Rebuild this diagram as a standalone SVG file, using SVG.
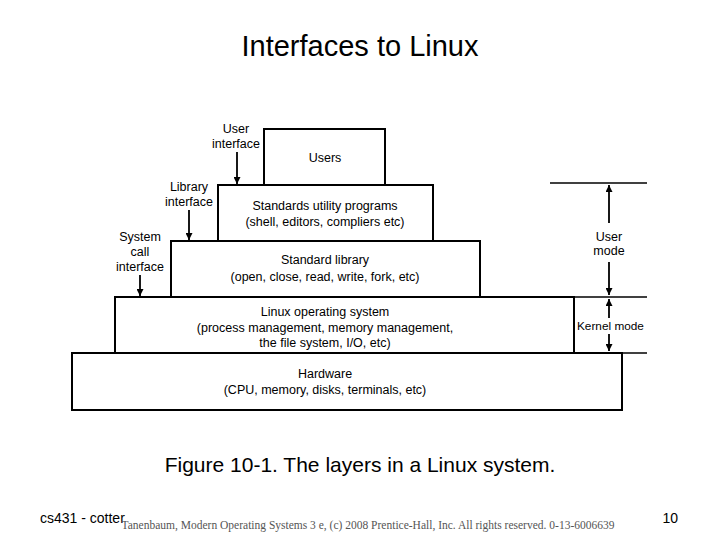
<svg xmlns="http://www.w3.org/2000/svg" width="720" height="540" viewBox="0 0 720 540">
<defs><marker id="ah" viewBox="0 0 10 10" refX="10" refY="5" markerWidth="7" markerHeight="7" markerUnits="userSpaceOnUse" orient="auto"><path d="M0,0L10,5L0,10z" fill="#000"/></marker></defs>
<style>
.b{fill:#fff;stroke:#000;stroke-width:2}
.t{font-family:"Liberation Sans",Arial,sans-serif;font-size:12.5px;text-anchor:middle;fill:#000}
.l{stroke:#000;stroke-width:1.5;fill:none}
.a{stroke:#000;stroke-width:1.8;marker-end:url(#ah)}
</style>
<rect width="720" height="540" fill="#fff"/>
<text x="360" y="56" style="font-family:'Liberation Sans',Arial,sans-serif;font-size:29px;text-anchor:middle">Interfaces to Linux</text>
<g id="hardware"><rect class="b" x="72" y="353" width="550" height="57"/><text class="t" x="325" y="378">Hardware</text><text class="t" x="325" y="394">(CPU, memory, disks, terminals, etc)</text></g>
<g id="linux"><rect class="b" x="115" y="297" width="459" height="56"/><text class="t" x="325" y="316">Linux operating system</text><text class="t" x="325" y="332">(process management, memory management,</text><text class="t" x="325" y="347">the file system, I/O, etc)</text></g>
<g id="stdlib"><rect class="b" x="171" y="241" width="309" height="56"/><text class="t" x="325" y="264">Standard library</text><text class="t" x="325" y="281">(open, close, read, write, fork, etc)</text></g>
<g id="utils"><rect class="b" x="218" y="185" width="215" height="56"/><text class="t" x="325" y="210">Standards utility programs</text><text class="t" x="325" y="226">(shell, editors, compliers etc)</text></g>
<g id="users"><rect class="b" x="264" y="129" width="121" height="56"/><text class="t" x="325" y="162">Users</text></g>
<g id="labels">
<text class="t" x="236" y="133">User</text><text class="t" x="236" y="148">interface</text>
<text class="t" x="189" y="191">Library</text><text class="t" x="189" y="206">interface</text>
<text class="t" x="140" y="241">System</text><text class="t" x="140" y="256">call</text><text class="t" x="140" y="271">interface</text>
<text class="t" x="609" y="241">User</text><text class="t" x="609" y="255">mode</text>
<text class="t" x="577" y="330" style="text-anchor:start;font-size:11.8px">Kernel mode</text>
</g>
<g id="connectors">
<line class="a" x1="237" y1="152" x2="237" y2="184"/>
<line class="a" x1="189" y1="210" x2="189" y2="240"/>
<line class="a" x1="140" y1="275" x2="140" y2="296"/>
<line class="l" x1="550" y1="183" x2="647" y2="183"/>
<line class="l" x1="550" y1="297" x2="647" y2="297"/>
<line class="l" x1="585" y1="353" x2="647" y2="353"/>
<line class="a" x1="609" y1="223" x2="609" y2="185"/>
<line class="a" x1="609" y1="262" x2="609" y2="295"/>
<line class="a" x1="609" y1="318" x2="609" y2="299"/>
<line class="a" x1="609" y1="334" x2="609" y2="351"/>
</g>
<text x="360" y="472" style="font-family:'Liberation Sans',Arial,sans-serif;font-size:21px;text-anchor:middle">Figure 10-1. The layers in a Linux system.</text>
<text x="40" y="523" style="font-family:'Liberation Sans',Arial,sans-serif;font-size:14px">cs431 - cotter</text>
<text x="368" y="529" style="font-family:'Liberation Serif','Times New Roman',serif;font-size:11.5px;text-anchor:middle;fill:#555">Tanenbaum, Modern Operating Systems 3 e, (c) 2008 Prentice-Hall, Inc. All rights reserved. 0-13-6006639</text>
<text x="678" y="523" style="font-family:'Liberation Sans',Arial,sans-serif;font-size:14px;text-anchor:end">10</text>
</svg>
